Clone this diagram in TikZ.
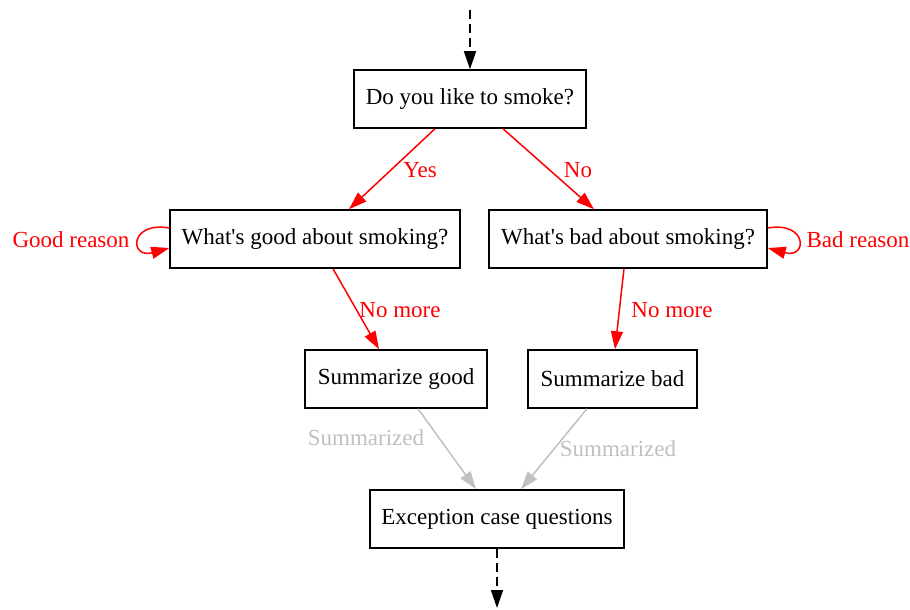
\documentclass[tikz,border=0pt]{standalone}
\usepackage{fontspec}
\setmainfont{Liberation Serif}[Ligatures=TeXOff]
\usetikzlibrary{arrows.meta,calc}
\definecolor{edgegray}{RGB}{192,192,192}
\tikzset{
  box/.style={draw=black, line width=1.5pt, rectangle, inner sep=0pt, minimum height=58pt},
  lbl/.style={inner sep=0pt, anchor=center},
  edge/.style={line width=1.5pt, -{Triangle[length=18pt,width=12pt]}},
  rededge/.style={edge, draw=red},
  grayedge/.style={edge, draw=edgegray},
  dashedge/.style={edge, draw=black, dash pattern=on 9pt off 5pt},
}
\begin{document}
\begin{tikzpicture}[x=1pt,y=-1pt, every node/.style={font=\fontsize{23}{27}\selectfont}]
\useasboundingbox (0,0) rectangle (910,610);

\node[box, minimum width=232pt] (top) at (470,99) {Do you like to smoke?};
\node[box, minimum width=290pt] (good) at (315,239) {What's good about smoking?};
\node[box, minimum width=278pt] (bad) at (628,239) {What's bad about smoking?};
\node[box, minimum width=182pt] (sgood) at (396,379) {Summarize good};
\node[box, minimum width=169pt] (sbad) at (612.5,379) {Summarize bad};
\node[box, minimum width=254pt] (exc) at (497,519) {Exception case questions};

\coordinate (start) at (470,10);
\coordinate (finish) at (497,608);

\draw[dashedge] (start) -- (top.north);
\draw[dashedge] (exc.south) -- (finish);

\draw[rededge] ($(top.south)+(-35,0)$) -- ($(good.north)+(34,0)$);
\draw[rededge] ($(top.south)+(33,0)$) -- ($(bad.north)+(-34,0)$);
\draw[rededge] ($(good.south)+(18,0)$) -- ($(sgood.north)+(-17,0)$);
\draw[rededge] ($(bad.south)+(-4,0)$) -- ($(sbad.north)+(2.5,0)$);
\draw[grayedge] ($(sgood.south)+(22,0)$) -- ($(exc.north)+(-21,0)$);
\draw[grayedge] ($(sbad.south)+(-25.5,0)$) -- ($(exc.north)+(24,0)$);

\draw[rededge] ($(good.west)+(0,-11)$) .. controls ($(good.west)+(-40,-18)$) and ($(good.west)+(-40,20)$) .. ($(good.west)+(0,9)$);
\draw[rededge] ($(bad.east)+(0,-11)$) .. controls ($(bad.east)+(40,-18)$) and ($(bad.east)+(40,20)$) .. ($(bad.east)+(0,9)$);

\node[lbl, text=red] (lyes) at (420,170) {Yes};
\node[lbl, text=red] (lno) at (578,170) {No};
\node[lbl, text=red] (lgr) at (71,240) {Good reason};
\node[lbl, text=red] (lbr) at (858,240) {Bad reason};
\node[lbl, text=red] (lnm1) at (400,310) {No more};
\node[lbl, text=red] (lnm2) at (672,310) {No more};
\node[lbl, text=edgegray] (ls1) at (366,438) {Summarized};
\node[lbl, text=edgegray] (ls2) at (618,449) {Summarized};
\end{tikzpicture}
\end{document}
